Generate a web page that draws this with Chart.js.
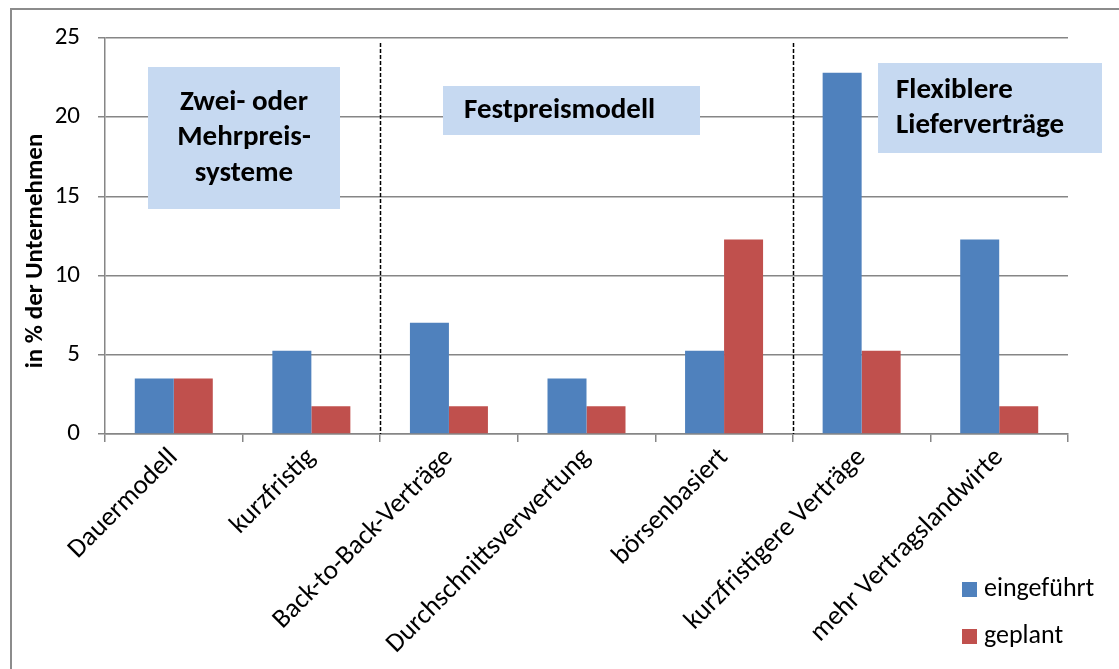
<!DOCTYPE html>
<html>
<head>
<meta charset="utf-8">
<script src="https://cdn.jsdelivr.net/npm/chart.js@4/dist/chart.umd.min.js"></script>
<style>
  html, body { margin: 0; padding: 0; background: #fff; }
  #wrap { width: 1119px; height: 669px; position: relative; }
</style>
</head>
<body>
<div id="wrap"><canvas id="c" width="1119" height="669"></canvas></div>
<script>
// Kategorien und Werte (Anteil der Unternehmen in %)
const categories = [
  'Dauermodell',
  'kurzfristig',
  'Back-to-Back-Verträge',
  'Durchschnittsverwertung',
  'börsenbasiert',
  'kurzfristigere Verträge',
  'mehr Vertragslandwirte'
];
const eingefuehrt = [3.51, 5.26, 7.02, 3.51, 5.26, 22.81, 12.28];
const geplant     = [3.51, 1.75, 1.75, 1.75, 12.28, 5.26, 1.75];
const seriesNames = ['eingeführt', 'geplant'];
const yTicks = [0, 5, 10, 15, 20, 25];

// Gruppen-Trennlinien liegen zwischen diesen Kategorien
const groupBreaks = [1.5, 4.5];
const groupLabels = [
  { lines: ['Zwei- oder', 'Mehrpreis-', 'systeme'], box: [148, 67, 192, 142], align: 'center' },
  { lines: ['Festpreismodell'], box: [443, 86, 257, 49], align: 'left', indent: 21 },
  { lines: ['Flexiblere', 'Lieferverträge'], box: [878, 63, 224, 90], align: 'left', indent: 18 }
];

const FONT = "Carlito, Lato, 'Liberation Sans', sans-serif";
const GRID = '#868686';

const decorPlugin = {
  id: 'decor',
  beforeDraw(chart) {
    const ctx = chart.ctx;
    ctx.save();
    ctx.fillStyle = '#fff';
    ctx.fillRect(0, 0, chart.width, chart.height);
    // Rahmen des Diagrammbereichs
    ctx.strokeStyle = '#8c8c8c';
    ctx.lineWidth = 2;
    ctx.beginPath();
    ctx.moveTo(11, chart.height + 2);
    ctx.lineTo(11, 9);
    ctx.lineTo(chart.width + 2, 9);
    ctx.stroke();
    ctx.restore();
  },
  afterDatasetsDraw(chart) {
    const ctx = chart.ctx;
    const x = chart.scales.x;
    const area = chart.chartArea;
    ctx.save();
    // gestrichelte Trennlinien
    ctx.strokeStyle = '#000';
    ctx.lineWidth = 1.5;
    ctx.setLineDash([4, 2]);
    groupBreaks.forEach(b => {
      const px = Math.round((x.getPixelForValue(Math.floor(b)) + x.getPixelForValue(Math.ceil(b))) / 2) + 0.5;
      ctx.beginPath();
      ctx.moveTo(px, area.top + 5);
      ctx.lineTo(px, area.bottom);
      ctx.stroke();
    });
    ctx.setLineDash([]);
    // Beschriftungsfelder der Gruppen
    groupLabels.forEach(g => {
      const [bx, by, bw, bh] = g.box;
      ctx.fillStyle = '#c6d9f1';
      ctx.fillRect(bx, by, bw, bh);
      ctx.fillStyle = '#000';
      ctx.font = 'bold 29px ' + FONT;
      ctx.textBaseline = 'middle';
      const lh = 35.5;
      const startY = by + bh / 2 - (g.lines.length - 1) * lh / 2;
      g.lines.forEach((t, i) => {
        if (g.align === 'center') {
          ctx.textAlign = 'center';
          ctx.fillText(t, bx + bw / 2, startY + i * lh);
        } else {
          ctx.textAlign = 'left';
          ctx.fillText(t, bx + g.indent, startY + i * lh);
        }
      });
    });
    // Achsentitel
    ctx.save();
    ctx.translate(36, 251);
    ctx.rotate(-Math.PI / 2);
    ctx.font = 'bold 25px ' + FONT;
    ctx.textAlign = 'center';
    ctx.textBaseline = 'middle';
    ctx.fillText('in % der Unternehmen', 0, 0);
    ctx.restore();
    // Legende
    chart.data.datasets.forEach((ds, i) => {
      const ly = 589 + i * 47;
      ctx.fillStyle = ds.backgroundColor;
      ctx.fillRect(962, ly - 7, 15, 15);
      ctx.fillStyle = '#000';
      ctx.font = '26px ' + FONT;
      ctx.textAlign = 'left';
      ctx.textBaseline = 'middle';
      ctx.fillText(ds.label, 984, ly);
    });
    ctx.restore();
  }
};

new Chart(document.getElementById('c'), {
  type: 'bar',
  data: {
    labels: categories,
    datasets: [
      { label: seriesNames[0], data: eingefuehrt, backgroundColor: '#4f81bd', borderWidth: 0 },
      { label: seriesNames[1], data: geplant, backgroundColor: '#c0504d', borderWidth: 0 }
    ]
  },
  options: {
    responsive: false,
    animation: false,
    devicePixelRatio: 1,
    layout: { padding: { top: 38, right: 51, left: 0, bottom: 0 } },
    categoryPercentage: 0.567,
    barPercentage: 1.0,
    plugins: { legend: { display: false }, tooltip: { enabled: false } },
    scales: {
      x: {
        offset: true,
        grid: { display: true, offset: true, drawOnChartArea: false, drawTicks: true, tickLength: 8, color: GRID, lineWidth: 1.5 },
        border: { display: true, color: GRID, width: 1.5 },
        ticks: {
          color: '#000',
          font: { family: FONT, size: 27 },
          minRotation: 45,
          maxRotation: 45,
          autoSkip: false,
          padding: 0
        },
        afterFit(scale) { scale.height = 669 - 434; }
      },
      y: {
        min: 0,
        max: 25,
        afterBuildTicks(scale) { scale.ticks = yTicks.map(v => ({ value: v })); },
        grid: { color: GRID, lineWidth: 1.5, tickLength: 7, drawTicks: true },
        border: { display: true, color: GRID, width: 1.5 },
        ticks: {
          color: '#000',
          font: { family: FONT, size: 25 },
          padding: 18
        },
        afterFit(scale) { scale.width = 105; }
      }
    }
  },
  plugins: [decorPlugin]
});
</script>
</body>
</html>
